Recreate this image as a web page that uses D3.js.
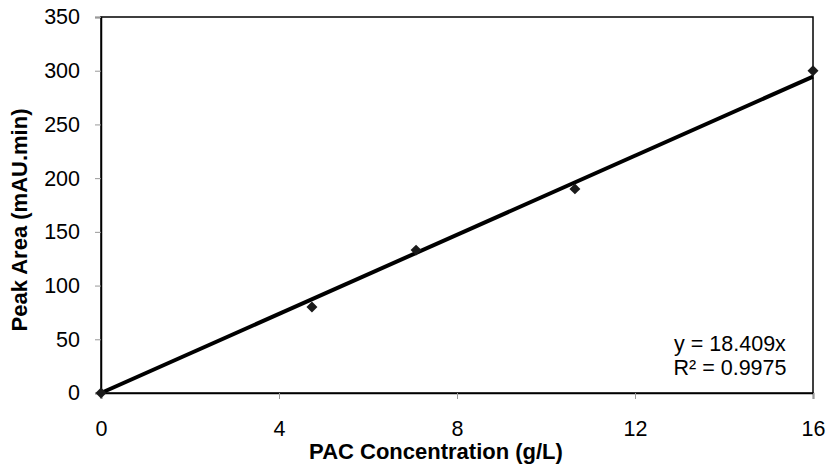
<!DOCTYPE html>
<html><head><meta charset="utf-8">
<script src="https://cdn.jsdelivr.net/npm/d3@7"></script>
<style>body{margin:0;background:#fff}text{font-family:"Liberation Sans",Arial,sans-serif}</style>
</head><body>
<svg id="c" width="828" height="468"></svg>
<script>
const xValues = [0, 4.74, 7.08, 10.65, 16];
const yValues = [0, 80, 133, 190, 300];
const xTicks = [0, 4, 8, 12, 16];
const yTicks = [0, 50, 100, 150, 200, 250, 300, 350];
const slope = 18.409;
const eqLines = ["y = 18.409x", "R\u00B2 = 0.9975"];

const svg = d3.select("#c");
const L = 101, R = 813, T = 17, B = 393;
const x = d3.scaleLinear().domain([0, 16]).range([L, R]);
const y = d3.scaleLinear().domain([0, 350]).range([B, T]);

// box
svg.append("rect").attr("x", L).attr("y", T).attr("width", R - L).attr("height", B - T)
  .attr("fill", "none").attr("stroke", "#000").attr("stroke-width", 1.5);

// y axis
const ya = svg.append("g").attr("transform", `translate(${L},0)`)
  .call(d3.axisLeft(y).tickValues(yTicks).tickSize(6).tickPadding(15));
ya.select(".domain").attr("stroke", "#000").attr("stroke-width", 1.5);
ya.selectAll(".tick line").attr("stroke", "#999");
ya.selectAll(".tick text").attr("font-size", 21.5).attr("fill", "#000");

// x axis
const xa = svg.append("g").attr("transform", `translate(0,${B})`)
  .call(d3.axisBottom(x).tickValues(xTicks).tickSize(6).tickPadding(22));
xa.select(".domain").attr("stroke", "#000").attr("stroke-width", 1.5);
xa.selectAll(".tick line").attr("stroke", "#999");
xa.selectAll(".tick text").attr("font-size", 21.5).attr("fill", "#000");

// trendline
svg.append("line").attr("x1", x(0)).attr("y1", y(0)).attr("x2", x(16)).attr("y2", y(slope * 16))
  .attr("stroke", "#000").attr("stroke-width", 4);

// points
const pts = xValues.map((v, i) => [v, yValues[i]]);
svg.selectAll(".pt").data(pts).enter().append("path")
  .attr("d", d3.symbol(d3.symbolSquare, 60))
  .attr("transform", d => `translate(${x(d[0])},${y(d[1])}) rotate(45)`)
  .attr("fill", "#1a1a1a");

// equation
svg.selectAll(".eq").data(eqLines).enter().append("text")
  .attr("x", 730).attr("y", (d, i) => 351 + i * 24)
  .attr("text-anchor", "middle").attr("font-size", 21.5).text(d => d);

// axis titles
svg.append("text").attr("x", 436).attr("y", 459).attr("text-anchor", "middle")
  .attr("font-size", 22).attr("font-weight", "bold").text("PAC Concentration (g/L)");
svg.append("text").attr("transform", `translate(27,220) rotate(-90)`)
  .attr("text-anchor", "middle").attr("font-size", 22).attr("font-weight", "bold")
  .text("Peak Area (mAU.min)");
</script>
</body></html>
